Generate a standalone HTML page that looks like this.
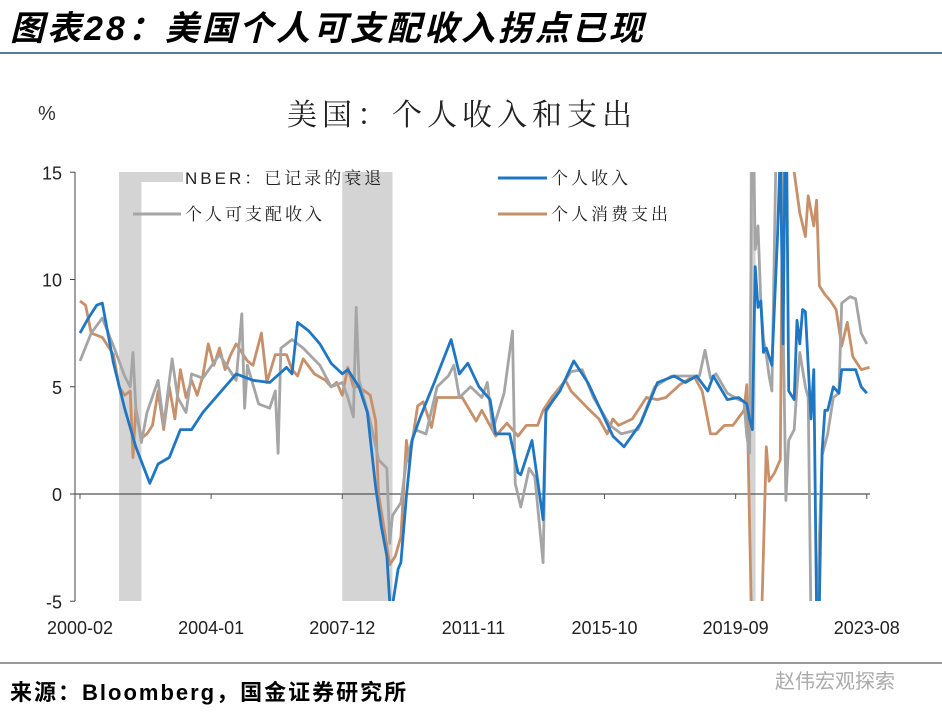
<!DOCTYPE html>
<html><head><meta charset="utf-8">
<style>
body{margin:0;background:#fff;width:942px;height:720px;overflow:hidden;font-family:"Liberation Sans","Noto Sans CJK SC",sans-serif;}
</style></head>
<body>
<svg width="942" height="720" viewBox="0 0 942 720" xmlns="http://www.w3.org/2000/svg">
<text x="10" y="40" font-size="34" font-weight="bold" font-style="italic" letter-spacing="3" font-family="'Liberation Sans','Noto Sans CJK SC',sans-serif" fill="#000">图表28：美国个人可支配收入拐点已现</text>
<line x1="0" y1="53" x2="942" y2="53" stroke="#1f4e79" stroke-width="1.5"/>
<text x="38" y="120" font-size="20" fill="#333">%</text>
<text x="462" y="125" font-size="30" text-anchor="middle" letter-spacing="5" font-family="'Liberation Serif','Noto Serif CJK SC',serif" fill="#222">美国：个人收入和支出</text>
<g id="plot"></g>
<g font-size="17" font-family="'Liberation Sans','Noto Serif CJK SC',sans-serif" fill="#222" letter-spacing="3">
<rect x="120" y="172" width="63" height="10" fill="#d4d4d4"/>
<text x="185" y="184">NBER：已记录的衰退</text>
<line x1="133" y1="214" x2="181" y2="214" stroke="#a5a5a5" stroke-width="3"/>
<text x="185" y="220">个人可支配收入</text>
<line x1="498" y1="178" x2="547" y2="178" stroke="#1f77c4" stroke-width="3"/>
<text x="551" y="184">个人收入</text>
<line x1="498" y1="214" x2="547" y2="214" stroke="#c8906a" stroke-width="3"/>
<text x="551" y="220">个人消费支出</text>
</g>
<line x1="0" y1="663" x2="942" y2="663" stroke="#333" stroke-width="1"/>
<text x="10" y="700" font-size="22" font-weight="bold" fill="#000" letter-spacing="2">来源：Bloomberg，国金证券研究所</text>
<text x="775" y="688" font-size="20" fill="#aaa">赵伟宏观探索</text>
</svg>
<script>
const xLabels=["2000-02","2004-01","2007-12","2011-11","2015-10","2019-09","2023-08"];
const xLabelMonths=[0,47,94,141,188,235,282];
const yTicks=[-5,0,5,10,15];
const recessions=[[14,22],[94,112],[240,242]];
const incM=[0,3,6,8,12,16,20,25,28,32,36,40,44,50,56,62,68,74,76,78,82,86,90,94,96,100,103,106,108,110,111,112,114,115,117,119,122,127,133,136,139,143,147,149,154,157,158,162,166,167,172,177,182,186,191,195,201,207,213,217,221,225,227,232,236,239,240,241,242,243,244,245,246,248,250,251,252,253,254,256,257,258,259,260,261,262,263,264,265,266,267,268,270,272,273,276,278,280,282];
const incV=[7.5,8.2,8.8,8.9,6.1,4.0,2.2,0.5,1.4,1.7,3.0,3.0,3.8,4.7,5.6,5.3,5.2,5.9,5.6,8.0,7.6,7.0,6.1,5.6,5.8,5.0,3.8,0.3,-1.5,-2.9,-5,-5.2,-3.5,-3.2,-0.1,2.5,3.6,5.2,7.2,5.6,6.1,5.0,4.4,2.8,2.8,1.0,0.9,2.5,-1.2,3.9,4.8,6.2,5.2,4.1,2.7,2.2,3.3,5.2,5.5,5.2,5.5,4.8,5.5,4.4,4.5,4.2,3.5,3.0,10.6,8.7,9.0,6.6,6.8,6.0,12,16,7.0,20,4.8,4.4,8.1,7.0,8.6,8.5,6.0,3.5,5.8,-5.5,-5,2.0,3.9,3.9,5.0,4.7,5.8,5.8,5.8,5.0,4.7];
const dispM=[0,4,8,12,16,18,19,20,22,24,28,30,33,35,38,40,44,50,56,58,59,60,64,68,70,71,72,76,80,86,90,94,96,98,99,100,104,107,110,111,112,115,117,120,124,128,132,134,136,140,144,146,148,152,155,156,158,161,163,166,167,170,176,180,184,190,194,200,206,212,218,222,224,226,228,232,236,238,239,240,241,242,243,244,245,246,247,248,250,251,252,253,254,256,257,258,260,261,262,264,265,266,268,270,272,273,276,278,280,282];
const dispV=[6.2,7.5,8.2,6.9,5.5,5.0,6.6,4.0,2.4,3.8,5.3,3.2,6.3,4.5,3.8,5.6,5.4,6.5,5.3,8.4,4.0,6.0,4.2,4.0,4.8,1.9,6.8,7.2,6.8,6.0,5.0,5.2,4.5,3.6,8.7,5.3,3.4,1.6,1.2,-2.3,-1.0,-0.4,1.5,3.0,2.8,5.0,5.5,6.0,4.5,5.0,4.5,5.2,3.0,4.7,7.6,0.5,-0.6,1.2,0.8,-3.2,3.8,4.5,5.7,5.8,4.5,3.2,2.8,3.0,5.0,5.5,5.5,5.5,6.7,5.4,5.6,4.7,4.4,4.3,2.7,1.9,20,11.4,12.5,9.0,7.2,6.5,5.5,4.8,20,25,8.0,-0.3,2.5,3.0,5.0,6.6,5.0,4.5,-6,-10,-2,1.8,2.8,4.5,4.7,8.9,9.2,9.1,7.5,7.0];
const pceM=[0,2,4,8,12,14,16,18,19,20,22,24,26,28,30,32,34,36,38,40,42,44,46,48,50,52,54,56,60,62,65,67,70,74,76,78,80,84,88,90,92,94,96,98,100,104,106,107,109,111,113,115,117,118,121,123,126,128,133,137,142,144,149,153,157,160,164,166,169,174,176,182,186,189,191,193,198,203,207,210,215,220,223,226,228,231,234,238,239,241,243,246,247,249,250,251,252,256,258,260,261,263,264,265,267,269,271,273,275,277,280,283];
const pceV=[9.0,8.8,7.5,7.3,6.5,5.0,4.6,4.8,1.7,4.0,2.6,2.8,3.2,4.8,3.0,5.0,3.5,5.8,4.5,5.3,4.6,5.5,7.0,6.0,6.8,5.8,6.5,7.0,6.2,6.0,7.5,5.2,6.5,6.5,5.8,5.5,6.3,5.6,5.3,5.0,5.2,4.6,5.9,5.0,5.0,4.6,3.4,0.0,-1.6,-3.3,-2.9,-2.0,2.5,1.5,4.1,4.3,3.1,4.5,4.5,4.5,3.4,3.9,2.7,3.3,2.7,3.2,3.2,3.9,4.5,5.3,4.8,4.0,3.5,2.8,3.5,3.2,3.5,4.5,4.4,4.5,5.1,5.5,4.8,2.8,2.8,3.2,3.2,3.9,5.1,-8,-12,2.2,0.6,1.0,1.3,1.6,18,15,13.1,12,13.9,12.5,13.7,9.7,9.3,9.0,8.6,6.9,8.0,6.4,5.8,5.9];

const NS="http://www.w3.org/2000/svg";
const plot=document.getElementById('plot');
const X0=80,PXM=2.79,Y0=494,PXV=21.45,XL=75,XR=870,YT=172,YB=601;
function xs(m){return X0+m*PXM;}
function ys(v){return Y0-v*PXV;}
function mk(tag,attrs){const e=document.createElementNS(NS,tag);for(const k in attrs)e.setAttribute(k,attrs[k]);plot.appendChild(e);return e;}
const defs=mk('defs',{});
const cp=document.createElementNS(NS,'clipPath');cp.setAttribute('id','clip');
const cr=document.createElementNS(NS,'rect');cr.setAttribute('x',XL);cr.setAttribute('y',YT);cr.setAttribute('width',XR-XL+2);cr.setAttribute('height',YB-YT);
cp.appendChild(cr);defs.appendChild(cp);
recessions.forEach((r,i)=>{
  const e=mk('rect',{x:xs(r[0]),y:YT,width:Math.max(6,xs(r[1])-xs(r[0])),height:YB-YT,fill:'#d4d4d4'});
  
  
});
const ya=mk('line',{x1:XL,y1:YT,x2:XL,y2:YB,stroke:'#444','stroke-width':1});


yTicks.forEach(v=>{
  const t=mk('line',{x1:XL-5,y1:ys(v),x2:XL,y2:ys(v),stroke:'#444'});
  
  
  const l=mk('text',{x:62,y:ys(v)+7,'text-anchor':'end','font-size':18,fill:'#222'});
  l.textContent=v;
  
  
});
const xa=mk('line',{x1:XL,y1:ys(0),x2:XR,y2:ys(0),stroke:'#555','stroke-width':1.2});


xLabels.forEach((s,i)=>{
  const x=xs(xLabelMonths[i]);
  const t=mk('line',{x1:x,y1:ys(0),x2:x,y2:ys(0)+5,stroke:'#555'});
  
  
  const l=mk('text',{x:x,y:634,'text-anchor':'middle','font-size':18,fill:'#222'});
  l.textContent=s;
  
  
});
function series(M,V,color,name){
  const d=M.map((m,i)=>(i?'L':'M')+xs(m).toFixed(1)+','+ys(V[i]).toFixed(1)).join('');
  const p=mk('path',{d:d,fill:'none',stroke:color,'stroke-width':2.8,'stroke-linejoin':'round','clip-path':'url(#clip)'});
  
  
}
series(pceM,pceV,'#c8906a','consumption-line');
series(dispM,dispV,'#a5a5a5','disposable-income-line');
series(incM,incV,'#1f77c4','personal-income-line');
</script>
</body></html>
